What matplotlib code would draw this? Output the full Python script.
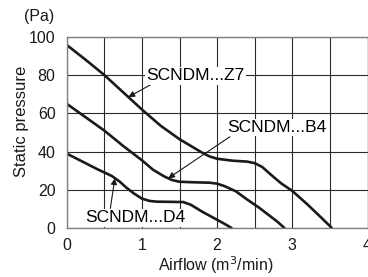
import matplotlib
matplotlib.use("Agg")
import matplotlib.pyplot as plt

plt.rcParams['font.family'] = ['Liberation Sans', 'DejaVu Sans']

# curve data
z7_x = [0, 0.25, 0.5, 0.75, 1.0, 1.25, 1.5, 1.65, 1.8, 1.9, 2.0, 2.2, 2.4, 2.5, 2.6, 2.7, 2.85, 3.0, 3.2, 3.4, 3.53]
z7_y = [95.7, 88, 80, 71, 62, 53.5, 46.5, 43, 39.5, 37.5, 36.3, 35.3, 34.8, 34, 32, 28.5, 23.5, 19.5, 12.5, 5, 0]

b4_x = [0, 0.25, 0.5, 0.75, 1.0, 1.15, 1.3, 1.4, 1.5, 1.7, 1.9, 2.0, 2.1, 2.25, 2.4, 2.55, 2.7, 2.8, 2.9]
b4_y = [65, 58, 51, 43, 35.5, 30.5, 27, 25.2, 24.3, 24, 23.8, 23.3, 22, 19.3, 15, 11, 6.5, 3.5, 0]

d4_x = [0, 0.2, 0.4, 0.6, 0.7, 0.8, 0.9, 1.0, 1.1, 1.2, 1.4, 1.55, 1.65, 1.8, 1.95, 2.1, 2.2]
d4_y = [39, 35, 31, 27.3, 24.5, 21, 18, 15.5, 14.3, 13.9, 13.8, 13.7, 12.3, 8.7, 5.5, 2.3, 0]

x_ticks = [0, 1, 2, 3, 4]
y_ticks = [0, 20, 40, 60, 80, 100]

fig = plt.figure(figsize=(3.68, 2.77), dpi=100)
ax = fig.add_axes([0.1813, 0.1758, 0.8174, 0.6917])

line_kw = dict(color='#1a1a1a', lw=1.9, solid_capstyle='butt')
ax.plot(z7_x, z7_y, **line_kw)
ax.plot(b4_x, b4_y, **line_kw)
ax.plot(d4_x, d4_y, **line_kw)

ax.set_xlim(0, 4)
ax.set_ylim(0, 100)
ax.set_xticks(x_ticks)
ax.set_xticks([0.5, 1.5, 2.5, 3.5], minor=True)
ax.set_yticks(y_ticks)
ax.grid(True, which='both', color='#2a2a2a', lw=0.8)
ax.set_axisbelow(True)
ax.tick_params(which='both', length=0, labelsize=11.5, colors='#1a1a1a')
ax.tick_params(axis='y', pad=8)
ax.tick_params(axis='x', pad=7)
for s in ax.spines.values():
    s.set_color('#808080')
    s.set_linewidth(1.0)

arrow = dict(arrowstyle='-|>', color='#1a1a1a', lw=0.8, mutation_scale=9, shrinkA=0, shrinkB=0)
box = dict(facecolor='white', edgecolor='none', pad=1)
fs = 12.5

ax.annotate('', xy=(0.82, 68.5), xytext=(1.16, 75.9), arrowprops=arrow)
ax.text(1.06, 79.5, 'SCNDM...Z7', fontsize=fs, va='center', ha='left', bbox=box)

ax.annotate('', xy=(1.35, 26.1), xytext=(2.17, 47.8), arrowprops=arrow)
ax.text(2.79, 52.6, 'SCNDM...B4', fontsize=fs, va='center', ha='center', bbox=box)

ax.annotate('', xy=(0.64, 26.1), xytext=(0.58, 10.4), arrowprops=arrow)
ax.text(0.91, 5.4, 'SCNDM...D4', fontsize=fs, va='center', ha='center', bbox=box)

fig.text(21.5 / 368, 1 - 121 / 277, 'Static pressure', rotation=90, fontsize=12,
         ha='center', va='center', color='#1a1a1a')
fig.text(39 / 368, 1 - 17 / 277, '(Pa)', fontsize=11.5, ha='center', va='center', color='#1a1a1a')
fig.text(216 / 368, 1 - 265 / 277, 'Airflow (m$^3$/min)', fontsize=11.5,
         ha='center', va='center', color='#1a1a1a')

fig.savefig('out.png', dpi=100)
